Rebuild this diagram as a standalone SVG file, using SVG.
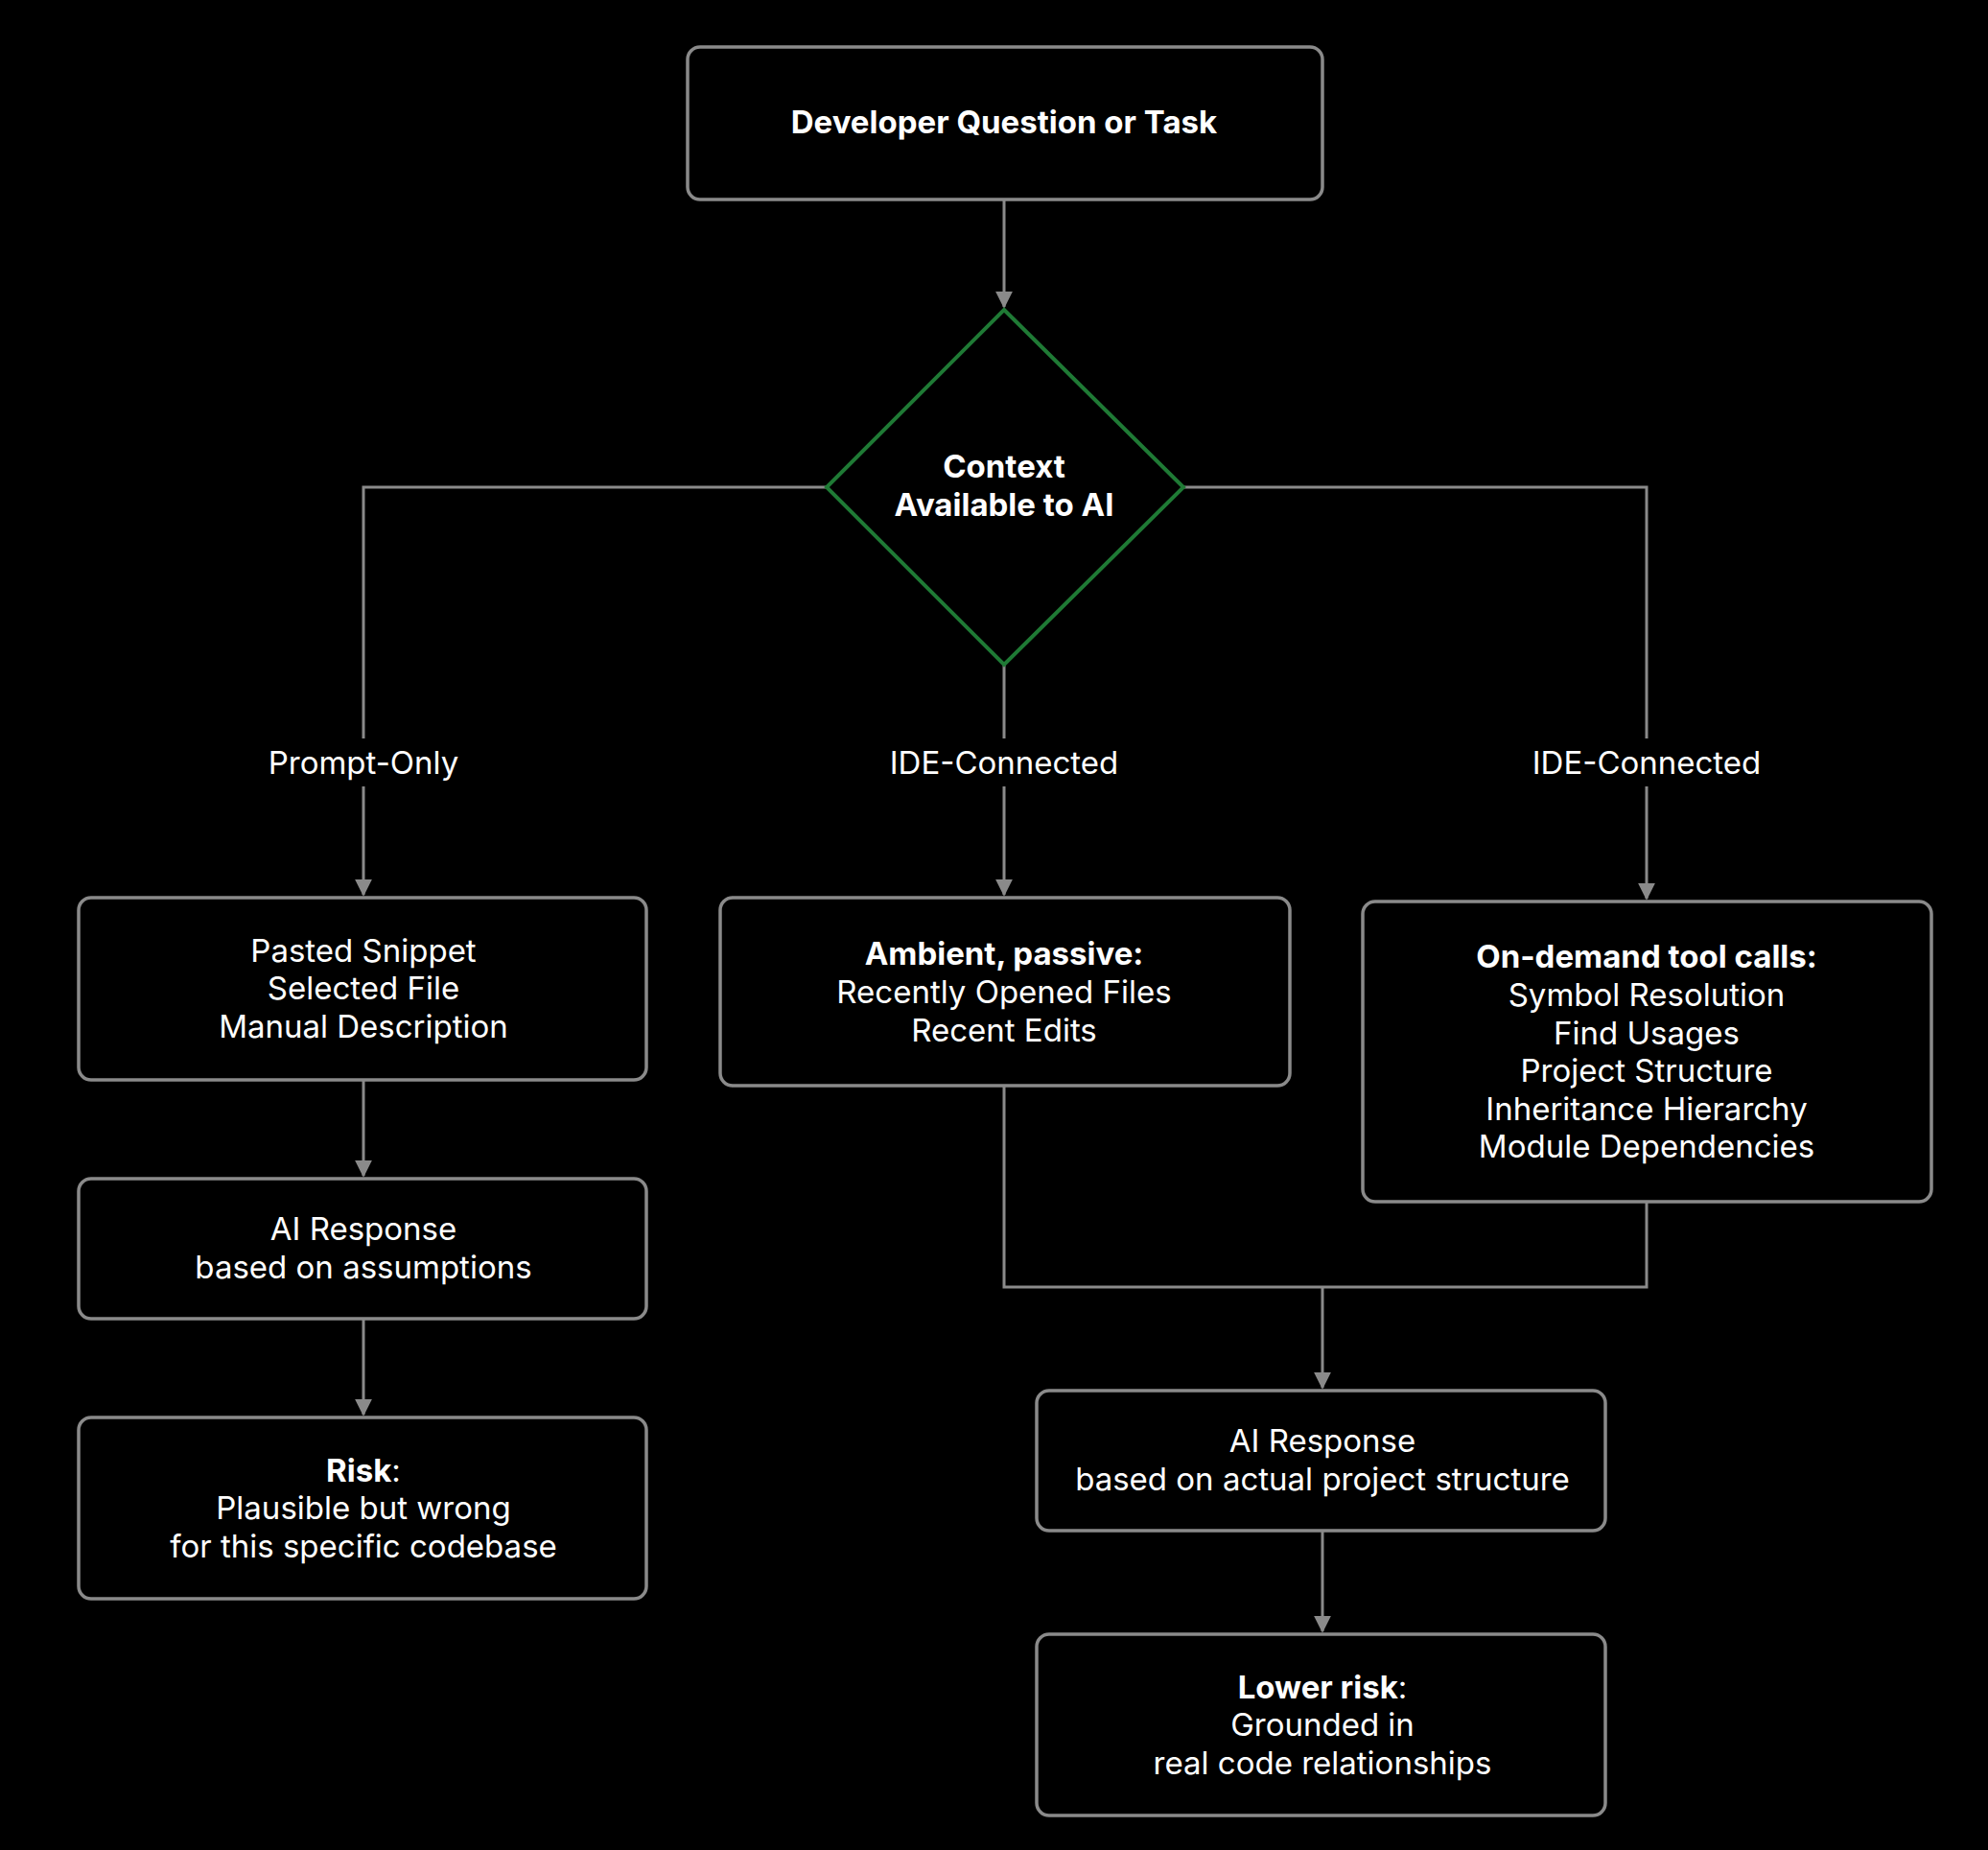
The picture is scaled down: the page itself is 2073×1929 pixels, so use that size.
<svg xmlns="http://www.w3.org/2000/svg" width="2073" height="1929" viewBox="0 0 2073 1929">
<style>
.n{fill:#000;stroke:#8a8a8a;stroke-width:3.5}
.t{font-family:Inter,"Liberation Sans",sans-serif;font-size:33px;fill:#fff;text-anchor:middle}
.b{font-weight:700}
.c{fill:none;stroke:#8a8a8a;stroke-width:3}
</style>
<defs><marker id="a" viewBox="0 0 10 10" refX="9" refY="5" markerWidth="6" markerHeight="6" orient="auto"><path d="M0,0L10,5L0,10z" fill="#8a8a8a"/></marker></defs>
<rect width="2073" height="1929" fill="#000"/>
<g id="connectors">
<path class="c" d="M1047,208V320" marker-end="url(#a)"/>
<path class="c" d="M862,508H379V933" marker-end="url(#a)"/>
<path class="c" d="M1047,693V933" marker-end="url(#a)"/>
<path class="c" d="M1234,508H1717V937" marker-end="url(#a)"/>
<path class="c" d="M379,1126V1226" marker-end="url(#a)"/>
<path class="c" d="M379,1375V1475" marker-end="url(#a)"/>
<path class="c" d="M1047,1132V1342H1717V1253"/>
<path class="c" d="M1379,1342V1447" marker-end="url(#a)"/>
<path class="c" d="M1379,1596V1701" marker-end="url(#a)"/>
<rect x="250" y="770" width="258" height="50" fill="#000"/>
<rect x="895" y="770" width="304" height="50" fill="#000"/>
<rect x="1565" y="770" width="304" height="50" fill="#000"/>
<text class="t" x="379" y="807" font-size="36">Prompt-Only</text>
<text class="t" x="1047" y="807">IDE-Connected</text>
<text class="t" x="1717" y="807">IDE-Connected</text>
</g>
<g id="start"><rect class="n" x="717" y="49" width="662" height="159" rx="13"/><text class="t b" x="1047" y="139">Developer Question or Task</text></g>
<g id="decision"><path d="M1047,323L1234,508L1047,693L862,508Z" fill="#000" stroke="#1f7a35" stroke-width="4"/><text class="t b" x="1047" y="498">Context</text><text class="t b" x="1047" y="538">Available to AI</text></g>
<g id="prompt"><rect class="n" x="82" y="936" width="592" height="190" rx="13"/><text class="t" x="379" y="1003">Pasted Snippet</text><text class="t" x="379" y="1042">Selected File</text><text class="t" x="379" y="1082">Manual Description</text></g>
<g id="resp1"><rect class="n" x="82" y="1229" width="592" height="146" rx="13"/><text class="t" x="379" y="1293">AI Response</text><text class="t" x="379" y="1333">based on assumptions</text></g>
<g id="risk"><rect class="n" x="82" y="1478" width="592" height="189" rx="13"/><text class="t" x="379" y="1545"><tspan class="b">Risk</tspan>:</text><text class="t" x="379" y="1584">Plausible but wrong</text><text class="t" x="379" y="1624">for this specific codebase</text></g>
<g id="ambient"><rect class="n" x="751" y="936" width="594" height="196" rx="13"/><text class="t b" x="1047" y="1006">Ambient, passive:</text><text class="t" x="1047" y="1046">Recently Opened Files</text><text class="t" x="1047" y="1086">Recent Edits</text></g>
<g id="ondemand"><rect class="n" x="1421" y="940" width="593" height="313" rx="13"/><text class="t b" x="1717" y="1009">On-demand tool calls:</text><text class="t" x="1717" y="1049">Symbol Resolution</text><text class="t" x="1717" y="1089">Find Usages</text><text class="t" x="1717" y="1128">Project Structure</text><text class="t" x="1717" y="1168">Inheritance Hierarchy</text><text class="t" x="1717" y="1207">Module Dependencies</text></g>
<g id="resp2"><rect class="n" x="1081" y="1450" width="593" height="146" rx="13"/><text class="t" x="1379" y="1514">AI Response</text><text class="t" x="1379" y="1554">based on actual project structure</text></g>
<g id="lower"><rect class="n" x="1081" y="1704" width="593" height="189" rx="13"/><text class="t" x="1379" y="1771"><tspan class="b">Lower risk</tspan>:</text><text class="t" x="1379" y="1810">Grounded in</text><text class="t" x="1379" y="1850">real code relationships</text></g>
</svg>
